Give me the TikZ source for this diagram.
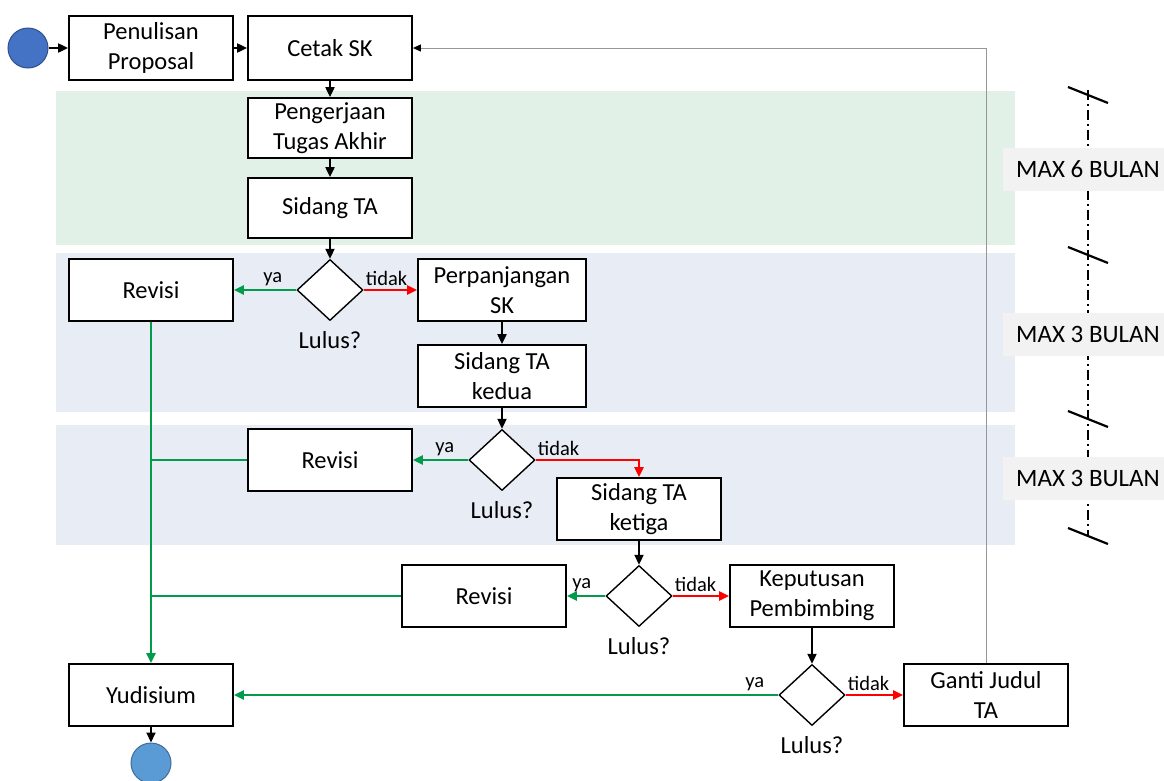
\documentclass[tikz,border=0pt]{standalone}
\usepackage{fontspec}
\setmainfont{Carlito}
\usetikzlibrary{arrows.meta,positioning,shapes.geometric}
\definecolor{hijauya}{RGB}{0,155,75}
\definecolor{pitahijau}{RGB}{226,241,231}
\definecolor{pitabiru}{RGB}{231,236,245}
\definecolor{birumulai}{RGB}{68,114,196}
\definecolor{biruselesai}{RGB}{91,155,213}
\definecolor{abulabel}{RGB}{242,242,242}
\definecolor{abugaris}{RGB}{150,150,150}
\tikzset{
  kotak/.style={draw, line width=1.8pt, fill=white, minimum width=164pt, minimum height=62pt, align=center, inner sep=2pt, font=\fontsize{24.5}{30}\selectfont},
  belah/.style={draw, diamond, line width=1.4pt, fill=white, minimum width=66pt, minimum height=61pt, inner sep=0pt},
  lingkaran/.style={circle, minimum size=40pt, inner sep=0pt, line width=1pt},
  panah/.style={-{Triangle[length=10pt,width=9pt]}, line width=2pt},
  panahya/.style={-{Triangle[length=10pt,width=9pt]}, line width=2.5pt, hijauya},
  garisya/.style={line width=2.5pt, hijauya},
  panahtidak/.style={-{Triangle[length=10pt,width=9pt]}, line width=2.5pt, red},
  lbl/.style={inner sep=1pt, font=\fontsize{20.5}{24}\selectfont},
  tanya/.style={inner sep=1pt, font=\fontsize{24.5}{29}\selectfont},
  bulan/.style={fill=abulabel, minimum width=170pt, minimum height=43pt, inner sep=0pt, font=\fontsize{25}{30}\selectfont}
}
\begin{document}
\begin{tikzpicture}[x=1pt,y=-1pt]
  \useasboundingbox (0,0) rectangle (1164,780);
  \fill[pitahijau] (56,91) rectangle (1015,245);
  \fill[pitabiru] (56,253) rectangle (1015,412);
  \fill[pitabiru] (56,425) rectangle (1015,545);

  \node[lingkaran, fill=birumulai, draw=birumulai!70!black] (mulai) at (28,48) {};
  \node[kotak, minimum height=64pt] (proposal) at (151,48) {Penulisan\\Proposal};
  \node[kotak, minimum height=64pt] (cetak) at (330,48) {Cetak SK};
  \node[kotak, minimum height=60pt] (kerja) at (330,128) {Pengerjaan\\Tugas Akhir};
  \node[kotak, minimum height=60pt] (sidang1) at (330,208) {Sidang TA};
  \node[belah] (cek1) at (330,290) {};
  \node[kotak] (revisi1) at (151,290) {Revisi};
  \node[kotak, minimum width=168pt] (panjang) at (502,290) {Perpanjangan\\SK};
  \node[kotak, minimum width=168pt] (sidang2) at (502,376) {Sidang TA\\kedua};
  \node[belah] (cek2) at (502,460) {};
  \node[kotak] (revisi2) at (330,460) {Revisi};
  \node[kotak] (sidang3) at (639,509) {Sidang TA\\ketiga};
  \node[belah] (cek3) at (639,596) {};
  \node[kotak] (revisi3) at (484,596) {Revisi};
  \node[kotak] (putusan) at (812,596) {Keputusan\\Pembimbing};
  \node[belah] (cek4) at (812,695) {};
  \node[kotak] (ganti) at (986,695) {Ganti Judul\\TA};
  \node[kotak] (yudisium) at (151,695) {Yudisium};
  \node[lingkaran, fill=biruselesai, draw=biruselesai!70!black] (selesai) at (151,763) {};

  \foreach \i in {1,...,4} {
    \node[lbl, above left=3pt and 13pt of cek\i.west] (ya\i) {ya};
    \node[lbl, above right=3pt and 1pt of cek\i.east] (tidak\i) {tidak};
    \node[tanya, below=9pt of cek\i.south] (lulus\i) {Lulus?};
  }

  \draw[panah] (mulai) -- (proposal);
  \draw[panah] (proposal) -- (cetak);
  \draw[panah] (cetak) -- (kerja);
  \draw[panah] (kerja) -- (sidang1);
  \draw[panah] (sidang1) -- (cek1.north);
  \draw[panahya] (cek1.west) -- (revisi1);
  \draw[panahtidak] (cek1.east) -- (panjang);
  \draw[panah] (panjang) -- (sidang2);
  \draw[panah] (sidang2) -- (cek2.north);
  \draw[panahya] (cek2.west) -- (revisi2);
  \draw[panahtidak] (cek2.east) -| (sidang3.north);
  \draw[panah] (sidang3) -- (cek3.north);
  \draw[panahya] (cek3.west) -- (revisi3);
  \draw[panahtidak] (cek3.east) -- (putusan);
  \draw[panah] (putusan) -- (cek4.north);
  \draw[panahya] (cek4.west) -- (yudisium);
  \draw[panahtidak] (cek4.east) -- (ganti);
  \draw[panahya] (revisi1) -- (yudisium);
  \draw[garisya] (revisi2.west) -- (revisi2.west -| revisi1.south);
  \draw[garisya] (revisi3.west) -- (revisi3.west -| revisi1.south);
  \draw[panah] (yudisium) -- (selesai);
  \draw[abugaris, line width=1pt, -{Triangle[length=8pt,width=7pt,color=black]}] (ganti.north) |- (cetak.east);

  \draw[line width=2.2pt, dash pattern=on 10pt off 4pt on 2pt off 4pt] (1088,90) -- (1088,536);
  \foreach \y in {95,255,419,536}
    \draw[line width=2.2pt] (1068,\y-8) -- (1108,\y+8);
  \node[bulan] (bulan1) at (1088,169) {MAX 6 BULAN};
  \node[bulan] (bulan2) at (1088,334) {MAX 3 BULAN};
  \node[bulan] (bulan3) at (1088,478) {MAX 3 BULAN};
\end{tikzpicture}
\end{document}
